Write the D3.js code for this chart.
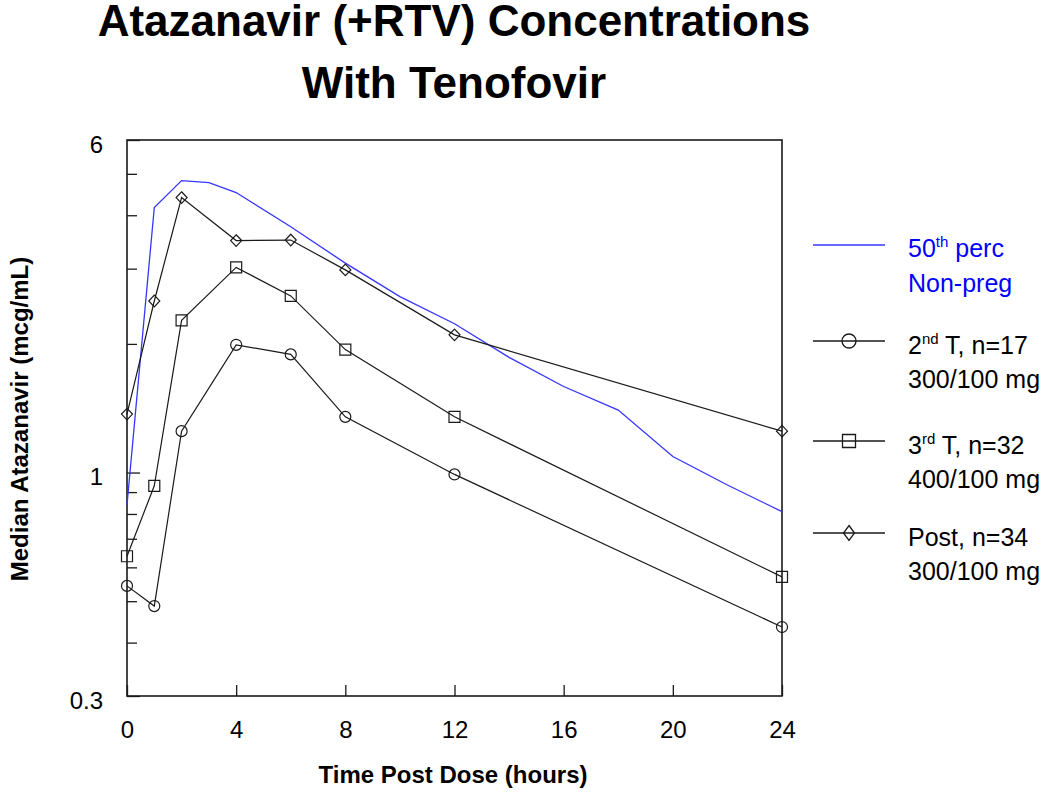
<!DOCTYPE html>
<html>
<head>
<meta charset="utf-8">
<script src="https://cdn.jsdelivr.net/npm/d3@7"></script>
<style>
  html, body { margin: 0; padding: 0; background: #fff; }
  svg { display: block; }
  text { font-family: "Liberation Sans", Arial, sans-serif; }
</style>
</head>
<body>
<svg id="chart" width="1050" height="792"></svg>
<script>
// ---------------- data ----------------
const blueTimes = [0, 1, 2, 3, 4, 6, 8, 10, 12, 14, 16, 18, 20, 22, 24];
const blueMedian = [0.84, 4.17, 4.82, 4.77, 4.52, 3.76, 3.09, 2.58, 2.23, 1.86, 1.59, 1.40, 1.09, 0.935, 0.81];

const sampleTimes = [0, 1, 2, 4, 6, 8, 12, 24];
const secondTri = [0.543, 0.487, 1.25, 1.99, 1.89, 1.35, 0.99, 0.435];
const thirdTri = [0.637, 0.931, 2.27, 3.02, 2.59, 1.94, 1.35, 0.570];
const postPartum = [1.37, 2.52, 4.40, 3.49, 3.50, 2.98, 2.10, 1.25];

const xTicks = [0, 4, 8, 12, 16, 20, 24];
const yMajorTicks = [0.3, 1, 6];
const yMinorTicks = [0.4, 0.5, 0.6, 0.7, 0.8, 0.9, 2, 3, 4, 5];

const titleLines = ["Atazanavir (+RTV) Concentrations", "With Tenofovir"];
const xTitle = "Time Post Dose (hours)";
const yTitle = "Median Atazanavir (mcg/mL)";

// ---------------- layout ----------------
const svg = d3.select("#chart");
const pLeft = 127, pRight = 782, pTop = 140, pBottom = 696;
const x = d3.scaleLinear().domain([0, 24]).range([pLeft, pRight]);
const y = d3.scaleLog().domain([0.3, 6]).range([pBottom, pTop]);

const BLUE = "#3636ff";
const INK = "#1a1a1a";

// title
svg.append("text").attr("x", 454).attr("y", 36).attr("text-anchor", "middle")
  .attr("font-size", 44).attr("font-weight", "bold").attr("fill", "#000").text(titleLines[0]);
svg.append("text").attr("x", 454).attr("y", 98).attr("text-anchor", "middle")
  .attr("font-size", 44).attr("font-weight", "bold").attr("fill", "#000").text(titleLines[1]);

// axes (ticks inward)
const gx = svg.append("g").attr("transform", `translate(0,${pBottom})`)
  .call(d3.axisBottom(x).tickValues(xTicks).tickSize(-11).tickPadding(25).tickFormat(d3.format("d")));
const gy = svg.append("g").attr("transform", `translate(${pLeft},0)`)
  .call(d3.axisLeft(y).tickValues(yMajorTicks).tickSize(-13).tickPadding(24).tickFormat(d => String(d)));
const gyMinor = svg.append("g").attr("transform", `translate(${pLeft},0)`)
  .call(d3.axisLeft(y).tickValues(yMinorTicks).tickSize(-10).tickFormat(""));

[gx, gy, gyMinor].forEach(g => {
  g.select(".domain").remove();
  g.selectAll(".tick line").attr("stroke", INK).attr("stroke-width", 1.3);
  g.selectAll(".tick text").attr("font-size", 24).attr("fill", "#000")
    .attr("font-family", "'Liberation Sans', Arial, sans-serif");
});
gy.selectAll(".tick text").attr("dy", "0.5em");

// frame
svg.append("rect").attr("x", pLeft).attr("y", pTop).attr("width", pRight - pLeft).attr("height", pBottom - pTop)
  .attr("fill", "none").attr("stroke", INK).attr("stroke-width", 1.6);

// axis titles
svg.append("text").attr("x", 453).attr("y", 783).attr("text-anchor", "middle")
  .attr("font-size", 24).attr("font-weight", "bold").attr("fill", "#000").text(xTitle);
svg.append("text").attr("transform", "translate(28,419) rotate(-90)").attr("text-anchor", "middle")
  .attr("font-size", 24).attr("font-weight", "bold").attr("fill", "#000").text(yTitle);

// lines
const line = d3.line().x(d => x(d[0])).y(d => y(d[1]));
svg.append("path").datum(blueTimes.map((t, i) => [t, blueMedian[i]]))
  .attr("d", line).attr("fill", "none").attr("stroke", BLUE).attr("stroke-width", 1.3);

function markerPath(shape, cx, cy, s) {
  if (shape === "circle") {
    const r = s.r;
    return `M${cx - r},${cy}a${r},${r} 0 1,0 ${2 * r},0a${r},${r} 0 1,0 ${-2 * r},0Z`;
  }
  if (shape === "square") {
    const h = s.h;
    return `M${cx - h},${cy - h}h${2 * h}v${2 * h}h${-2 * h}Z`;
  }
  return `M${cx},${cy - s.hh}L${cx + s.hw},${cy}L${cx},${cy + s.hh}L${cx - s.hw},${cy}Z`;
}

const series = [
  { vals: secondTri, shape: "circle", size: { r: 5.5 }, legSize: { r: 7 } },
  { vals: thirdTri, shape: "square", size: { h: 5.5 }, legSize: { h: 6.5 } },
  { vals: postPartum, shape: "diamond", size: { hw: 5.5, hh: 5.8 }, legSize: { hw: 5.5, hh: 7.5 } }
];

series.forEach(s => {
  const pts = sampleTimes.map((t, i) => [t, s.vals[i]]);
  svg.append("path").datum(pts).attr("d", line).attr("fill", "none")
    .attr("stroke", INK).attr("stroke-width", 1.2);
  svg.append("g").selectAll("path").data(pts).join("path")
    .attr("d", d => markerPath(s.shape, x(d[0]), y(d[1]), s.size))
    .attr("fill", "none").attr("stroke", INK).attr("stroke-width", 1.2);
});

// legend
const legX1 = 813, legX2 = 885, legMid = 849, legTextX = 908;
const leg = svg.append("g");
function legText(yb, parts, color) {
  const t = leg.append("text").attr("x", legTextX).attr("y", yb).attr("font-size", 25).attr("fill", color);
  let raised = false;
  parts.forEach(p => {
    const ts = t.append("tspan").text(p.t);
    if (p.sup) {
      ts.attr("font-size", 15).attr("dy", -10);
      raised = true;
    } else if (raised) {
      ts.attr("dy", 10);
      raised = false;
    }
  });
}
leg.append("line").attr("x1", legX1).attr("x2", legX2).attr("y1", 245).attr("y2", 245)
  .attr("stroke", BLUE).attr("stroke-width", 1.5);
legText(257, [{ t: "50" }, { t: "th", sup: true }, { t: " perc" }], "#0000ff");
legText(292, [{ t: "Non-preg" }], "#0000ff");

const legendRows = [
  { y: 341, l1: [{ t: "2" }, { t: "nd", sup: true }, { t: " T, n=17" }], l2: "300/100 mg" },
  { y: 441, l1: [{ t: "3" }, { t: "rd", sup: true }, { t: " T, n=32" }], l2: "400/100 mg" },
  { y: 533, l1: [{ t: "Post, n=34" }], l2: "300/100 mg" }
];
legendRows.forEach((r, i) => {
  const s = series[i];
  leg.append("line").attr("x1", legX1).attr("x2", legX2).attr("y1", r.y).attr("y2", r.y)
    .attr("stroke", INK).attr("stroke-width", 1.3);
  leg.append("path").attr("d", markerPath(s.shape, legMid, r.y, s.legSize))
    .attr("fill", "none").attr("stroke", INK).attr("stroke-width", 1.3);
  legText(r.y + 13, r.l1, "#000");
  legText(r.y + 47, [{ t: r.l2 }], "#000");
});
</script>
</body>
</html>
